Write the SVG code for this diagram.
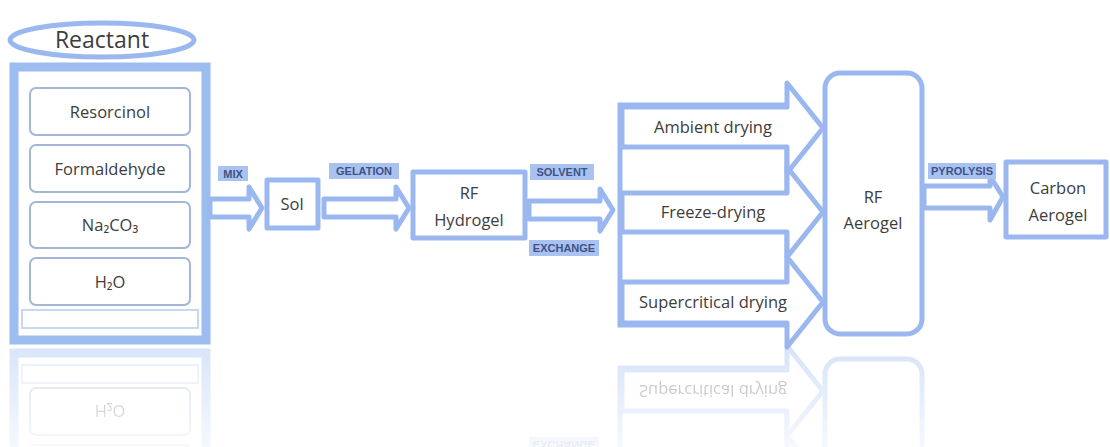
<svg xmlns="http://www.w3.org/2000/svg" xmlns:xlink="http://www.w3.org/1999/xlink" width="1110" height="447" viewBox="0 0 1110 447">
<style>
.bl{fill:#fff;stroke:#9ab8ef;stroke-width:5;stroke-linejoin:round}
.bx{fill:#fff;stroke:#a4b6d8;stroke-width:2}
.t{font-family:"Open Sans","Liberation Sans",sans-serif;fill:#3d3d3d;text-anchor:middle;font-size:16.5px}
.lp{fill:#a9c2ef}
.lt{font-family:"Liberation Sans Narrow","Liberation Sans",sans-serif;font-weight:bold;font-size:11px;fill:#3e5288;text-anchor:middle}
</style>
<defs>
<linearGradient id="fade" x1="0" y1="345" x2="0" y2="447" gradientUnits="userSpaceOnUse">
<stop offset="0" stop-color="#fff" stop-opacity="0.4"/>
<stop offset="1" stop-color="#fff" stop-opacity="0.1"/>
</linearGradient>
<mask id="m" maskUnits="userSpaceOnUse" x="0" y="0" width="1110" height="447">
<rect x="0" y="346" width="1110" height="101" fill="url(#fade)"/>
</mask>
</defs>
<rect width="1110" height="447" fill="#fff"/>
<g id="main">
<g id="reactant">
<rect x="14" y="67" width="192" height="273" fill="#fff" stroke="#9dbcf0" stroke-width="9"/>
<rect x="22" y="310" width="176" height="18" fill="#fff" stroke="#c7d8f5" stroke-width="2"/>
<ellipse cx="102" cy="40" rx="92" ry="17" class="bl"/>
<text class="t" x="102" y="48" style="font-size:23px">Reactant</text>
</g>
<g id="resorcinol"><rect x="30" y="88" width="160" height="47" rx="6" class="bx"/><text class="t" x="110" y="118">Resorcinol</text></g>
<g id="formaldehyde"><rect x="30" y="145" width="160" height="47" rx="6" class="bx"/><text class="t" x="110" y="175">Formaldehyde</text></g>
<g id="na2co3"><rect x="30" y="202" width="160" height="46" rx="6" class="bx"/><text class="t" x="110" y="231">Na₂CO₃</text></g>
<g id="h2o"><rect x="30" y="258" width="160" height="47" rx="6" class="bx"/><text class="t" x="110" y="288">H₂O</text></g>
<g id="connectors">
<path class="bl" stroke-width="4" d="M210 199 H249 V187 L262 208 L249 229 V217 H210 Z"/>
<rect class="lp" x="218" y="166" width="30" height="15"/><text class="lt" x="233" y="178">MIX</text>
<path class="bl" stroke-width="4" d="M324 199 H396 V187 L409 208 L396 229 V217 H324 Z"/>
<rect class="lp" x="329" y="163" width="70" height="16"/><text class="lt" x="364" y="175">GELATION</text>
<path class="bl" stroke-width="4" d="M529 201 H600 V189 L613 210 L600 231 V219 H529 Z"/>
<rect class="lp" x="530" y="164" width="64" height="16"/><text class="lt" x="562" y="176">SOLVENT</text>
<rect class="lp" x="529" y="240" width="70" height="16"/><text class="lt" x="564" y="252">EXCHANGE</text>
<rect x="620" y="105" width="167" height="220" fill="#fff" stroke="#9ab8ef" stroke-width="5"/>
<path class="bl" d="M622 107 H787 V83 L823 128 L787 173 V147 H622 Z"/>
<path class="bl" d="M622 193 H787 V167 L823 212 L787 257 V232 H622 Z"/>
<path class="bl" d="M622 282 H787 V257 L823 302 L787 347 V323 H622 Z"/>
<path class="bl" stroke-width="4" d="M924 186 H990 V176 L1003 197 L990 220 V208 H924 Z"/>
<rect class="lp" x="928" y="163" width="68" height="16"/><text class="lt" x="962" y="175">PYROLYSIS</text>
</g>
<g id="sol"><rect x="267" y="180" width="51" height="48" class="bl"/><text class="t" x="292" y="210">Sol</text></g>
<g id="hydrogel"><rect x="413" y="172" width="112" height="66" class="bl"/><text class="t" x="469" y="199">RF</text><text class="t" x="469" y="226">Hydrogel</text></g>
<g id="ambient"><text class="t" x="713" y="133">Ambient drying</text></g>
<g id="freeze"><text class="t" x="713" y="218">Freeze-drying</text></g>
<g id="supercritical"><text class="t" x="713" y="308">Supercritical drying</text></g>
<g id="aerogel"><rect x="825" y="73" width="97" height="261" rx="15" class="bl"/><text class="t" x="873" y="203">RF</text><text class="t" x="873" y="229">Aerogel</text></g>
<g id="carbon"><rect x="1006" y="162" width="100" height="75" class="bl"/><text class="t" x="1058" y="194">Carbon</text><text class="t" x="1058" y="221">Aerogel</text></g>
</g>
<g id="reflection" mask="url(#m)">
<use xlink:href="#main" transform="translate(0 693) scale(1 -1)"/>
</g>
</svg>
